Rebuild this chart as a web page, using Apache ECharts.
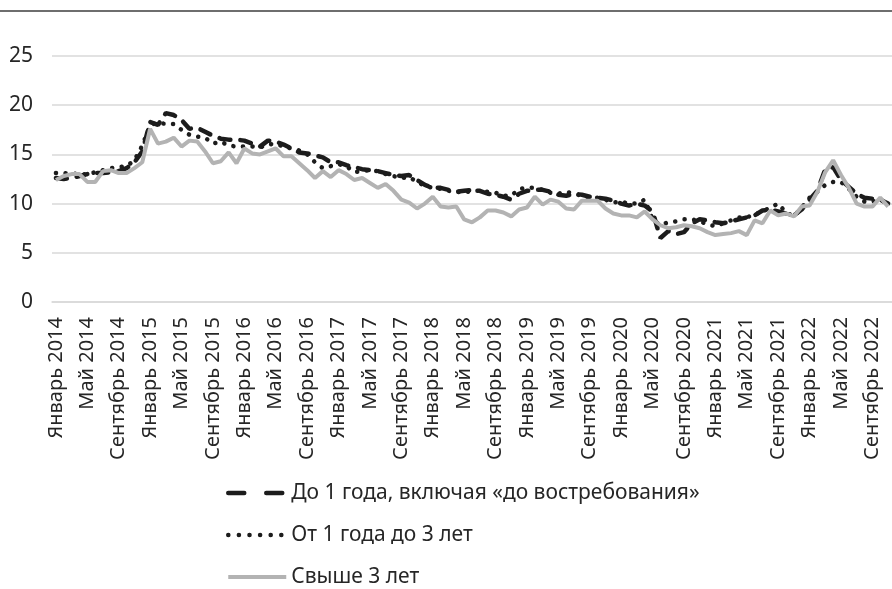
<!DOCTYPE html>
<html>
<head>
<meta charset="utf-8">
<script src="https://cdn.jsdelivr.net/npm/echarts@6/dist/echarts.min.js"></script>
<style>
  html, body { margin: 0; padding: 0; background: #fff; }
  #chart { width: 892px; height: 589px; }
</style>
</head>
<body>
<div id="chart"></div>
<script>
// Monthly deposit rates, %, January 2014 – November 2022
const monthNames = ['Январь','Февраль','Март','Апрель','Май','Июнь','Июль','Август','Сентябрь','Октябрь','Ноябрь','Декабрь'];
const years = [2014, 2015, 2016, 2017, 2018, 2019, 2020, 2021, 2022];
const monthCount = 107;

const seriesNames = ['До 1 года, включая «до востребования»', 'От 1 года до 3 лет', 'Свыше 3 лет'];

const upToOneYear = [
  12.6,12.5,12.6,12.8,13.0,13.1,13.1,13.2,13.3,13.6,14.2,15.3,
  18.3,18.0,19.2,19.0,18.5,17.6,17.7,17.3,16.9,16.6,16.5,16.5,
  16.4,16.1,15.8,16.4,16.3,16.0,15.6,15.2,15.1,14.9,14.7,14.2,
  14.2,13.9,13.7,13.5,13.4,13.3,13.1,12.9,12.8,12.9,12.4,11.9,
  11.6,11.6,11.4,11.2,11.3,11.4,11.3,11.0,10.9,10.7,10.4,11.0,
  11.3,11.4,11.4,11.2,10.9,10.8,11.0,10.9,10.7,10.6,10.5,10.3,
  10.0,9.8,10.0,9.8,9.2,6.5,7.2,6.9,7.1,8.0,8.4,8.3,
  8.1,8.0,8.2,8.4,8.6,8.8,9.3,9.4,9.2,9.0,8.8,9.4,
  10.4,11.3,13.5,13.7,12.4,11.7,11.0,10.6,10.5,10.4,10.0
];

const oneToThreeYears = [
  13.1,13.1,13.0,13.1,12.9,13.2,13.4,13.6,13.7,13.8,14.4,15.9,
  18.0,18.2,18.1,18.1,17.5,17.0,16.8,16.7,16.1,16.3,15.9,15.8,
  15.8,15.8,15.7,16.0,16.1,15.8,15.6,15.4,15.0,14.2,13.6,13.8,
  14.0,13.8,13.2,13.3,13.4,13.3,13.0,12.8,12.6,12.7,12.2,11.8,
  11.6,11.5,11.3,11.2,11.1,11.3,11.3,11.2,11.1,10.8,10.8,11.5,
  11.6,11.6,11.4,11.1,11.0,11.2,11.0,10.8,10.6,10.6,10.4,10.1,
  10.2,10.0,10.0,10.4,8.4,7.8,8.1,8.2,8.4,8.4,8.2,7.9,
  7.7,8.0,8.3,8.6,8.6,8.9,9.2,9.6,10.0,9.1,8.7,9.6,
  10.6,11.2,11.9,12.2,12.2,11.5,10.7,10.2,10.2,10.4,10.0
];

const overThreeYears = [
  12.4,12.8,13.0,13.0,12.2,12.2,13.3,13.4,13.1,13.1,13.6,14.2,
  17.6,16.1,16.3,16.7,15.8,16.4,16.3,15.3,14.1,14.3,15.2,14.1,
  15.6,15.1,15.0,15.3,15.6,14.8,14.8,14.1,13.4,12.6,13.3,12.7,
  13.4,13.0,12.4,12.6,12.1,11.6,12.0,11.3,10.4,10.1,9.5,10.0,
  10.7,9.7,9.6,9.7,8.4,8.1,8.6,9.3,9.3,9.1,8.7,9.4,
  9.6,10.7,9.9,10.4,10.2,9.5,9.4,10.3,10.3,10.3,9.5,9.0,
  8.8,8.8,8.6,9.2,8.4,7.8,7.5,7.6,7.8,7.7,7.5,7.1,
  6.8,6.9,7.0,7.2,6.8,8.3,8.0,9.3,8.8,9.0,8.7,9.7,
  9.8,11.2,13.2,14.4,12.9,11.6,10.0,9.7,9.7,10.6,9.7
];

const yTicks = { min: 0, max: 25, interval: 5 };

// Category labels "Месяц ГГГГ"
const categories = [];
for (const y of years) {
  for (const m of monthNames) {
    if (categories.length < monthCount) categories.push(m + ' ' + y);
  }
}

const FONT = 'Noto Sans';
const TEXT = '#262626';
const BLACK = '#1c1c1c';
const GREY = '#b3b3b3';

const chart = echarts.init(document.getElementById('chart'), null, { renderer: 'canvas' });
chart.setOption({
  animation: false,
  backgroundColor: '#ffffff',
  grid: { left: 52, top: 56, width: 842, height: 246, containLabel: false },
  graphic: [{
    type: 'line',
    shape: { x1: 0, y1: 11, x2: 892, y2: 11 },
    style: { stroke: '#6e6e6e', lineWidth: 2 },
    silent: true
  }],
  xAxis: {
    type: 'category',
    data: categories,
    boundaryGap: true,
    axisLine: { show: true, lineStyle: { color: '#d9d9d9', width: 1.5 } },
    axisTick: { show: false },
    axisLabel: {
      interval: 3,
      rotate: 90,
      margin: 15,
      fontFamily: FONT,
      fontSize: 20,
      color: TEXT
    },
    splitLine: { show: false }
  },
  yAxis: {
    type: 'value',
    min: yTicks.min,
    max: yTicks.max,
    interval: yTicks.interval,
    axisLine: { show: false },
    axisTick: { show: false },
    axisLabel: { margin: 19, fontFamily: FONT, fontSize: 21, color: TEXT },
    splitLine: { lineStyle: { color: '#d9d9d9', width: 1.5 } }
  },
  legend: {
    orient: 'vertical',
    left: 226,
    top: 481,
    height: 130,
    padding: 0,
    itemWidth: 58,
    itemHeight: 24,
    itemGap: 18,
    itemStyle: { opacity: 0 },
    textStyle: { fontFamily: FONT, fontSize: 21, color: TEXT, lineHeight: 24 },
    data: [
      { name: seriesNames[0], lineStyle: { width: 4.5, type: [16, 22], cap: 'round' } },
      { name: seriesNames[1], lineStyle: { width: 4.5, type: [0.1, 10.5], cap: 'round' } },
      { name: seriesNames[2], lineStyle: { width: 4 } }
    ]
  },
  series: [
    {
      name: seriesNames[0],
      type: 'line',
      data: upToOneYear,
      showSymbol: false,
      symbol: 'none',
      lineStyle: { color: BLACK, width: 4.5, type: [11, 10], cap: 'round' },
      itemStyle: { color: BLACK }
    },
    {
      name: seriesNames[1],
      type: 'line',
      data: oneToThreeYears,
      showSymbol: false,
      symbol: 'none',
      lineStyle: { color: BLACK, width: 4.5, type: [0.1, 9.5], cap: 'round' },
      itemStyle: { color: BLACK }
    },
    {
      name: seriesNames[2],
      type: 'line',
      data: overThreeYears,
      showSymbol: false,
      symbol: 'none',
      lineStyle: { color: GREY, width: 4 },
      itemStyle: { color: GREY }
    }
  ]
});
</script>
</body>
</html>
